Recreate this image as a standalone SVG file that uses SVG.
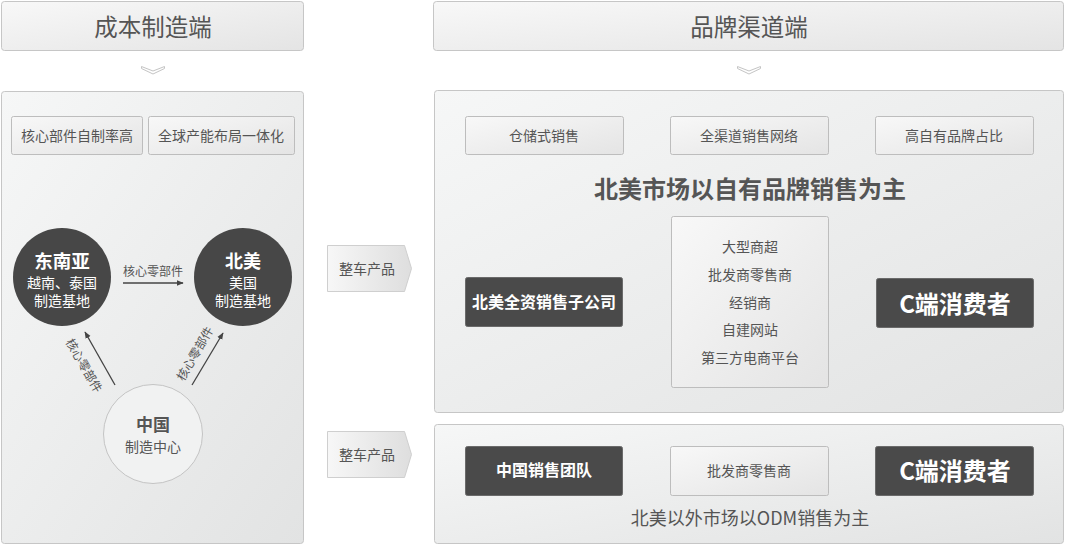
<svg xmlns="http://www.w3.org/2000/svg" width="1065" height="545" viewBox="0 0 1065 545">
<defs>
<linearGradient id="gPanel" x1="0" y1="0" x2="1" y2="1">
<stop offset="0" stop-color="#f6f7f7"/><stop offset="1" stop-color="#e2e3e3"/>
</linearGradient>
<linearGradient id="gBox" x1="0" y1="0" x2="1" y2="1">
<stop offset="0" stop-color="#f8f8f8"/><stop offset="1" stop-color="#e4e4e4"/>
</linearGradient>
<linearGradient id="gTag" x1="0" y1="0" x2="1" y2="0">
<stop offset="0" stop-color="#f7f7f7"/><stop offset="1" stop-color="#dedede"/>
</linearGradient>
<marker id="ah" viewBox="0 0 10 10" refX="9" refY="5" markerWidth="7" markerHeight="7" orient="auto" markerUnits="userSpaceOnUse">
<path d="M0,1 L10,5 L0,9 Z" fill="#444"/>
</marker>
<style>
text{font-family:"Noto Sans CJK SC","Noto Sans",sans-serif;text-anchor:middle;dominant-baseline:central}
.hdr{fill:url(#gBox);stroke:#c6c6c6;stroke-width:1}
.panel{fill:url(#gPanel);stroke:#c6c6c6;stroke-width:1}
.box{fill:url(#gBox);stroke:#bdbdbd;stroke-width:1}
.dark{fill:#4a4a4a;stroke:#6a6a6a;stroke-width:1}
.t14{font-size:14px;fill:#555}
.t12{font-size:12px;fill:#555}
.htxt{font-size:23.5px;fill:#555}
.wb{font-weight:bold;fill:#fff}
.wn{fill:#fff}
.chev{fill:none;stroke:#c4c4c4;stroke-width:1}
.conn{stroke:#444;stroke-width:1.3;fill:none;marker-end:url(#ah)}
</style>
</defs>

<g id="hdr-left"><rect class="hdr" x="1.5" y="1.5" width="302" height="49" rx="3"/><text class="htxt" x="153" y="26">成本制造端</text></g>
<g id="hdr-right"><rect class="hdr" x="433.5" y="1.5" width="630" height="49" rx="3"/><text class="htxt" x="749" y="26">品牌渠道端</text></g>
<g id="down-chev-l"><path class="chev" d="M141.5,66.5 L153,71 L164.5,66.5 L164.5,68.5 L153,74 L141.5,68.5 Z" fill="#fff"/></g>
<g id="down-chev-r"><path class="chev" d="M737.5,66.5 L749,71 L760.5,66.5 L760.5,68.5 L749,74 L737.5,68.5 Z" fill="#fff"/></g>

<g id="panel-left"><rect class="panel" x="1.5" y="91.5" width="302" height="452" rx="3"/></g>
<g id="box-l1"><rect class="box" x="11.5" y="116.5" width="131" height="38" rx="2"/><text class="t14" x="77" y="135">核心部件自制率高</text></g>
<g id="box-l2"><rect class="box" x="148.5" y="116.5" width="146" height="38" rx="2"/><text class="t14" x="221" y="135">全球产能布局一体化</text></g>

<g id="node-sea"><circle cx="62" cy="277" r="49" fill="#474747"/>
<text class="wb" x="62" y="260" font-size="18.5">东南亚</text>
<text class="wn" x="62" y="282" font-size="14">越南、泰国</text>
<text class="wn" x="62" y="300" font-size="14">制造基地</text></g>
<g id="node-na"><circle cx="243" cy="277" r="49" fill="#474747"/>
<text class="wb" x="243" y="260" font-size="18">北美</text>
<text class="wn" x="243" y="282" font-size="14">美国</text>
<text class="wn" x="243" y="300" font-size="14">制造基地</text></g>
<g id="node-cn"><circle cx="153" cy="434" r="49.5" fill="#f1f2f2" stroke="#c4c4c4"/>
<text x="153" y="423" font-size="17" font-weight="bold" fill="#555">中国</text>
<text class="t14" x="153" y="446">制造中心</text></g>

<g id="connectors">
<line class="conn" x1="123" y1="283" x2="183" y2="283"/>
<line class="conn" x1="115" y1="385" x2="85" y2="332"/>
<line class="conn" x1="192" y1="385" x2="223" y2="333"/>
<text class="t12" x="153" y="270">核心零部件</text>
<text class="t12" x="0" y="0" transform="translate(85,365) rotate(60)">核心零部件</text>
<text class="t12" x="0" y="0" transform="translate(194,353) rotate(-60)">核心零部件</text>
<path class="chev" d="M643,292 L650,303 L643,314 M647,292 L654,303 L647,314"/>
<path class="chev" d="M848,292 L855,303 L848,314 M852,292 L859,303 L852,314"/>
<path class="chev" d="M643,459 L650,470 L643,481 M647,459 L654,470 L647,481"/>
<path class="chev" d="M848,459 L855,470 L848,481 M852,459 L859,470 L852,481"/>
</g>

<g id="tag-1"><path d="M327.5,245.5 L404.5,245.5 L411.5,268.5 L404.5,291.5 L327.5,291.5 Z" fill="url(#gTag)" stroke="#cfcfcf"/><text class="t14" x="367" y="268">整车产品</text></g>
<g id="tag-2"><path d="M327.5,431.5 L404.5,431.5 L411.5,454.5 L404.5,477.5 L327.5,477.5 Z" fill="url(#gTag)" stroke="#cfcfcf"/><text class="t14" x="367" y="454">整车产品</text></g>

<g id="panel-rt"><rect class="panel" x="434.5" y="90.5" width="629" height="322" rx="3"/></g>
<g id="box-r1"><rect class="box" x="465.5" y="116.5" width="158" height="38" rx="2"/><text class="t14" x="544" y="135">仓储式销售</text></g>
<g id="box-r2"><rect class="box" x="670.5" y="116.5" width="158" height="38" rx="2"/><text class="t14" x="749" y="135">全渠道销售网络</text></g>
<g id="box-r3"><rect class="box" x="875.5" y="116.5" width="158" height="38" rx="2"/><text class="t14" x="954" y="135">高自有品牌占比</text></g>
<g id="title-na"><text x="750" y="187" font-size="24" font-weight="bold" fill="#555">北美市场以自有品牌销售为主</text></g>
<g id="node-sub"><rect class="dark" x="465.5" y="277.5" width="157" height="49" rx="2"/><text class="wb" x="544" y="301" font-size="16">北美全资销售子公司</text></g>
<g id="node-list"><rect class="box" x="671.5" y="216.5" width="157" height="171" rx="2"/>
<text class="t14" x="750" y="246">大型商超</text>
<text class="t14" x="750" y="274">批发商零售商</text>
<text class="t14" x="750" y="302">经销商</text>
<text class="t14" x="750" y="329">自建网站</text>
<text class="t14" x="750" y="357">第三方电商平台</text></g>
<g id="node-c1"><rect class="dark" x="876.5" y="278.5" width="157" height="49" rx="2"/><text class="wb" x="955" y="302" font-size="24">C端消费者</text></g>

<g id="panel-rb"><rect class="panel" x="434.5" y="424.5" width="629" height="119" rx="3"/></g>
<g id="node-cnteam"><rect class="dark" x="465.5" y="446.5" width="157" height="49" rx="2"/><text class="wb" x="544" y="469" font-size="16">中国销售团队</text></g>
<g id="node-ws"><rect class="box" x="670.5" y="446.5" width="158" height="49" rx="2"/><text class="t14" x="749" y="470">批发商零售商</text></g>
<g id="node-c2"><rect class="dark" x="875.5" y="446.5" width="158" height="49" rx="2"/><text class="wb" x="955" y="469" font-size="24">C端消费者</text></g>
<g id="note-odm"><text x="750" y="517" font-size="18" fill="#555">北美以外市场以ODM销售为主</text></g>
</svg>
